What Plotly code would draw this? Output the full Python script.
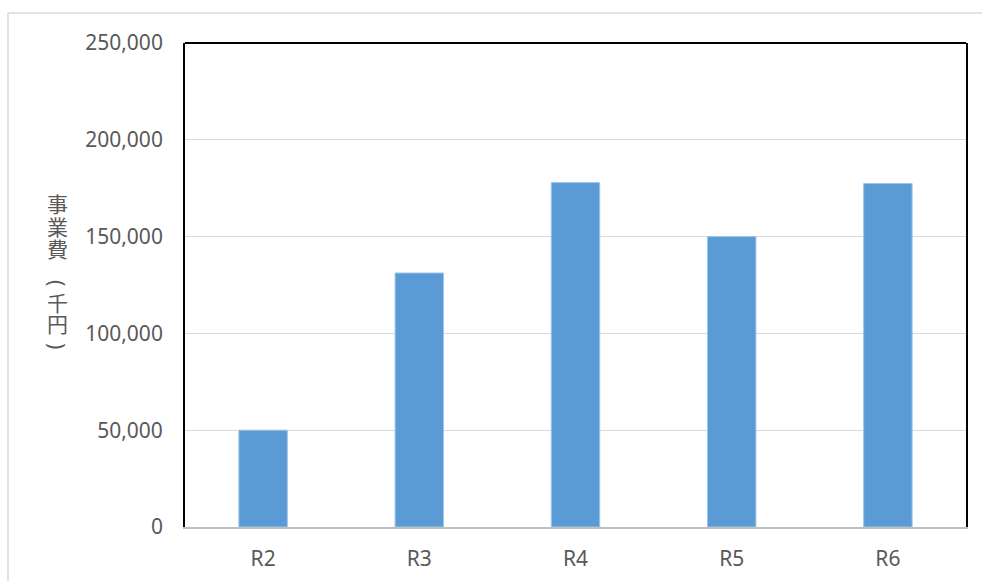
import plotly.graph_objects as go

# 年度別の事業費（千円）
years = ["R2", "R3", "R4", "R5", "R6"]
costs = [50000, 131200, 177900, 150000, 177400]
y_ticks = [0, 50000, 100000, 150000, 200000, 250000]

W, H = 982, 581
L, R, T, B = 185, 16, 43, 54
plot_w = W - L - R
plot_h = H - T - B

fig = go.Figure(
    go.Bar(
        x=years,
        y=costs,
        marker=dict(color="#5B9BD5", line=dict(color="#9DC3E6", width=1)),
        width=0.31,
    )
)

font_txt = "Noto Sans, Liberation Sans, sans-serif"

fig.update_layout(
    width=W,
    height=H,
    margin=dict(l=L, r=R, t=T, b=B, autoexpand=False),
    paper_bgcolor="white",
    plot_bgcolor="white",
    showlegend=False,
    font=dict(family=font_txt, size=20, color="#595959"),
    xaxis=dict(
        showline=True,
        linecolor="#bfbfbf",
        linewidth=1.5,
        showgrid=False,
        ticks="",
        ticklabelstandoff=12,
        tickfont=dict(size=21),
        automargin=False,
    ),
    yaxis=dict(
        range=[0, 250000],
        tickvals=y_ticks,
        ticktext=[f"{v:,}" for v in y_ticks],
        showgrid=True,
        gridcolor="#d9d9d9",
        gridwidth=1.3,
        zeroline=False,
        showline=True,
        linecolor="black",
        linewidth=1.8,
        mirror=True,
        ticks="",
        ticklabelstandoff=16,
        tickfont=dict(size=21),
        automargin=False,
    ),
)

# upper edge of the plot frame
fig.add_shape(type="line", xref="paper", yref="paper", x0=0, x1=1, y0=1, y1=1,
              line=dict(color="black", width=1.8))

# light outer frame of the chart area
ox = (8 - L) / plot_w
oy = (H - B - 13) / plot_h
fig.add_shape(type="line", xref="paper", yref="paper", x0=ox, x1=(W + 5 - L) / plot_w,
              y0=oy, y1=oy, line=dict(color="#d9d9d9", width=1.5))
fig.add_shape(type="line", xref="paper", yref="paper", x0=ox, x1=ox,
              y0=oy, y1=-(B + 10) / plot_h, line=dict(color="#d9d9d9", width=1.5))

# vertical axis title, one character per row; the brackets are turned a quarter turn
title_chars = ["事", "業", "費", "(", "千", "円", ")"]
title_rows = [203, 226, 248, 283, 302, 323, 346]
title_turn = [0, 0, 0, 90, 0, 0, 90]
for ch, py, ang in zip(title_chars, title_rows, title_turn):
    fam = "Noto Sans" if ang else "Noto Sans CJK JP"
    fig.add_annotation(
        text=ch,
        xref="paper", yref="paper",
        x=(57 - L) / plot_w, y=(H - B - py) / plot_h,
        xanchor="center", yanchor="middle",
        showarrow=False,
        textangle=ang,
        font=dict(family=fam, size=21, color="#595959"),
    )

fig.write_html("out.html")
